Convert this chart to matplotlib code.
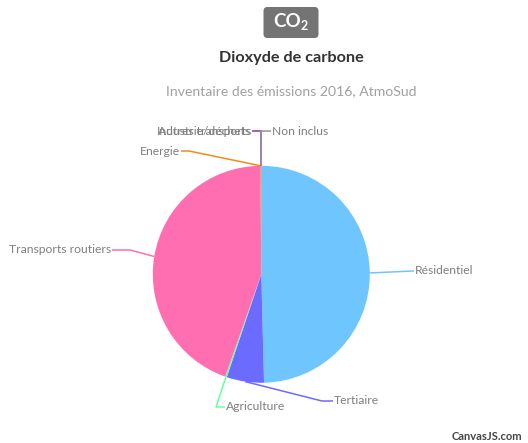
import matplotlib
matplotlib.use("Agg")
import matplotlib.pyplot as plt
from matplotlib.patches import FancyBboxPatch
import numpy as np

plt.rcParams['font.family'] = ['Lato', 'DejaVu Sans']

# Emission shares by sector (%)
sectors = ["Résidentiel", "Tertiaire", "Agriculture", "Transports routiers",
           "Energie", "Industrie/déchets", "Autres transports", "Non inclus"]
shares = [49.6, 5.55, 0.25, 44.45, 0.12, 0.02, 0.01, 0.0]
colors = ["#6FC6FF", "#6B6BFF", "#66FFA3", "#FF6EB0",
          "#F08C1A", "#E040E8", "#9B59B6", "#9A8F9A"]

W, H = 528, 443
fig = plt.figure(figsize=(W / 100, H / 100), dpi=100)
ax = fig.add_axes([0, 0, 1, 1])

cx, cy, R = 261.3, H - 274.3, 108.5
wedges, _ = ax.pie(shares, colors=colors, startangle=90, counterclock=False,
                   center=(cx, cy), radius=R, frame=True,
                   wedgeprops=dict(linewidth=0))
ax.set_xlim(0, W)
ax.set_ylim(0, H)
ax.set_aspect("auto")
ax.axis("off")

# label layout: (elbow x, elbow y, text x, text y, alignment) in pixels from top-left
layout = {
    "Résidentiel":         (413, 271, 415, 270, "left"),
    "Tertiaire":           (322, 401, 334, 400, "left"),
    "Agriculture":         (216, 407, 226, 407, "left"),
    "Transports routiers": (130, 250, 111, 249, "right"),
    "Energie":             (189, 151, 180, 151, "right"),
    "Industrie/déchets":   (261, 131, 251, 131, "right"),
    "Autres transports":   (261, 131, 251, 131, "right"),
    "Non inclus":          (261, 131, 272, 131, "left"),
}

for w, name, col in zip(wedges, sectors, colors):
    mid = np.deg2rad((w.theta1 + w.theta2) / 2)
    ex, ey = cx + R * np.cos(mid), cy + R * np.sin(mid)
    bx, by, tx, ty, ha = layout[name]
    by, ty = H - by, H - ty
    end = tx - 1 if ha == "left" else tx + 1
    ax.plot([ex, bx, end], [ey, by, by], color=col, lw=1.1,
            solid_capstyle="butt", zorder=3)
    ax.text(tx, ty, name, ha=ha, va="center", fontsize=8.7,
            color="#7F7F7F", zorder=4)

# badge with the pollutant formula
badge = FancyBboxPatch((263.5, H - 38), 55, 31,
                       boxstyle="round,pad=0,rounding_size=4",
                       fc="#747474", ec="none", zorder=5)
ax.add_patch(badge)
ax.text(287, H - 21.5, "CO", ha="center", va="center", fontsize=13.5,
        fontweight="bold", color="white", zorder=6)
ax.text(300.5, H - 26, "2", ha="left", va="center", fontsize=9,
        fontweight="bold", color="white", zorder=6)

ax.text(291, H - 58, "Dioxyde de carbone", ha="center", va="center",
        fontsize=11.7, fontweight="bold", color="#333333")
ax.text(291, H - 91, "Inventaire des émissions 2016, AtmoSud", ha="center",
        va="center", fontsize=10.1, color="#A0A0A0")

ax.text(522, H - 436, "CanvasJS.com", ha="right", va="center",
        fontsize=8, fontweight="bold", color="#444444")

fig.savefig("out.png", dpi=100)
